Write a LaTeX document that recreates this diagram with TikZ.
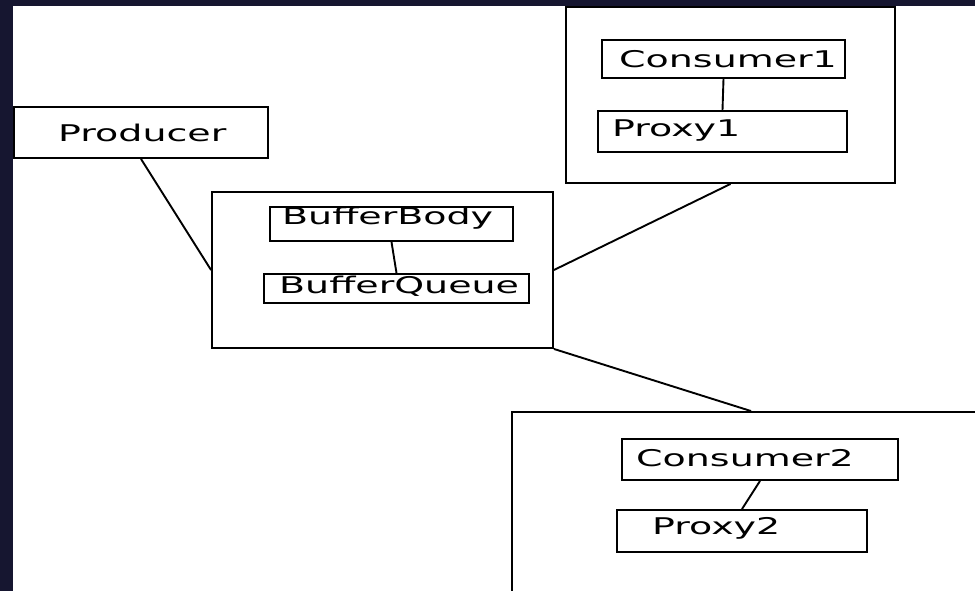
\documentclass[tikz,border=0pt]{standalone}
\usepackage{fontspec}
\setmainfont{DejaVu Sans}[FakeStretch=1.65]
\definecolor{frame}{RGB}{22,22,48}
\begin{document}
\begin{tikzpicture}[x=1bp,y=-1bp,
  box/.style={draw=black, line width=1.9bp, inner sep=0pt},
  lbl/.style={anchor=base west, inner sep=0pt, font=\fontsize{23bp}{27bp}\selectfont},
  link/.style={draw=black, line width=1.9bp}]
\useasboundingbox (0,0) rectangle (975,591);
\clip (0,0) rectangle (975,591);
\fill[white] (0,0) rectangle (975,591);

% containers
\node[box, minimum width=254bp, minimum height=51bp] (producer) at (141,132.5) {};
\node[box, minimum width=341bp, minimum height=156bp] (buffer) at (382.5,270) {};
\node[box, minimum width=329bp, minimum height=176bp] (c1box) at (730.5,95) {};
\node[box, minimum width=478bp, minimum height=188bp] (c2box) at (751,506) {};

% inner parts
\node[box, minimum width=243bp, minimum height=34bp] (bufbody) at (391.5,224) {};
\node[box, minimum width=265bp, minimum height=29bp] (bufqueue) at (396.5,288.5) {};
\node[box, minimum width=243bp, minimum height=38bp] (consumer1) at (723.5,59) {};
\node[box, minimum width=249bp, minimum height=41bp] (proxy1) at (722.5,131.5) {};
\node[box, minimum width=276bp, minimum height=41bp] (consumer2) at (760,459.5) {};
\node[box, minimum width=250bp, minimum height=42bp] (proxy2) at (742,531) {};

% labels
\node[lbl] (producer-t) at (58,142) {Producer};
\node[lbl] (bufbody-t) at (282,225) {BufferBody};
\node[lbl] (bufqueue-t) at (279,293) {BufferQueue};
\node[lbl] (consumer1-t) at (619,68) {Consumer1};
\node[lbl] (proxy1-t) at (612,137) {Proxy1};
\node[lbl] (consumer2-t) at (636,466) {Consumer2};
\node[lbl] (proxy2-t) at (652,534) {Proxy2};

% connectors
\draw[link] (producer.south) -- (buffer.west);
\draw[link] (buffer.east) -- (c1box.south);
\draw[link] (buffer.south east) -- (c2box.north);
\draw[link] (bufbody.south) -- (bufqueue.north);
\draw[link] (consumer1.south) -- (proxy1.north);
\draw[link] (consumer2.south) -- (proxy2.north);

% dark frame along the left and top edges
\fill[frame] (0,0) rectangle (13,591);
\fill[frame] (0,0) rectangle (975,6);
\end{tikzpicture}
\end{document}
